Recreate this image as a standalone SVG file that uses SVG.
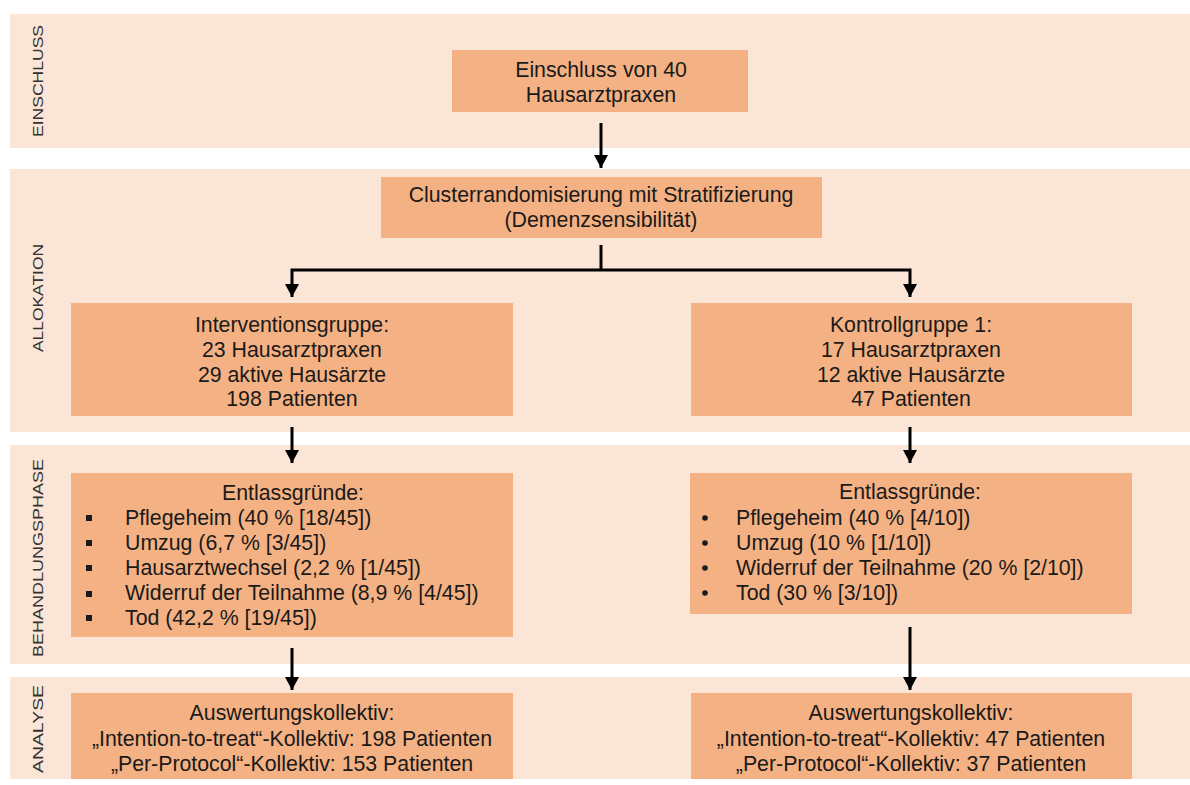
<svg xmlns="http://www.w3.org/2000/svg" width="1190" height="785" viewBox="0 0 1190 785">
  <defs>
    <style>
      .band { fill: #FBE5D6; }
      .box { fill: #F4B183; }
      .t { font-family: "Liberation Sans", Arial, sans-serif; font-size: 21.3px; fill: #1a1a1a; }
      .c { text-anchor: middle; }
      .side { font-family: "Liberation Sans", Arial, sans-serif; font-size: 15px; fill: #333; text-anchor: middle; }
      .conn { stroke: #000; stroke-width: 3; fill: none; }
      .sq { fill: #1a1a1a; }
    </style>
    <!-- arrowhead drawn pointing along +x so orient="auto" turns it with the line -->
    <marker id="arrow" viewBox="0 0 13 14" refX="13" refY="7" markerWidth="13" markerHeight="14" markerUnits="userSpaceOnUse" orient="auto-start-reverse">
      <path d="M0,0 L13,7 L0,14 Z" fill="#000"/>
    </marker>
  </defs>

  <rect width="1190" height="785" fill="#fff"/>

  <!-- phase bands -->
  <g id="bands">
    <rect class="band" x="10" y="14" width="1180" height="134"/>
    <rect class="band" x="10" y="169" width="1180" height="263"/>
    <rect class="band" x="10" y="445" width="1180" height="219"/>
    <rect class="band" x="10" y="677" width="1180" height="102"/>
    <text class="side" transform="translate(43,81) rotate(-90)" textLength="112" lengthAdjust="spacingAndGlyphs">EINSCHLUSS</text>
    <text class="side" transform="translate(43,298) rotate(-90)" textLength="108" lengthAdjust="spacingAndGlyphs">ALLOKATION</text>
    <text class="side" transform="translate(43,558) rotate(-90)" textLength="198" lengthAdjust="spacingAndGlyphs">BEHANDLUNGSPHASE</text>
    <text class="side" transform="translate(43,729) rotate(-90)" textLength="88" lengthAdjust="spacingAndGlyphs">ANALYSE</text>
  </g>

  <!-- connectors -->
  <g id="connectors">
    <line class="conn" x1="601" y1="123" x2="601" y2="168" marker-end="url(#arrow)"/>
    <polyline class="conn" points="601,245 601,270"/>
    <polyline class="conn" points="292,297 292,270 910,270 910,297" marker-start="url(#arrow)" marker-end="url(#arrow)"/>
    <line class="conn" x1="292" y1="427" x2="292" y2="463" marker-end="url(#arrow)"/>
    <line class="conn" x1="910" y1="427" x2="910" y2="463" marker-end="url(#arrow)"/>
    <line class="conn" x1="292" y1="648" x2="292" y2="690" marker-end="url(#arrow)"/>
    <line class="conn" x1="910" y1="627" x2="910" y2="690" marker-end="url(#arrow)"/>
  </g>

  <g id="einschluss">
    <rect class="box" x="452" y="50" width="296" height="62"/>
    <text class="t c" x="601" y="77">Einschluss von 40</text>
    <text class="t c" x="601" y="102">Hausarztpraxen</text>
  </g>

  <g id="randomisierung">
    <rect class="box" x="381" y="177" width="441" height="61"/>
    <text class="t c" x="601" y="202">Clusterrandomisierung mit Stratifizierung</text>
    <text class="t c" x="601" y="227">(Demenzsensibilität)</text>
  </g>

  <g id="interventionsgruppe">
    <rect class="box" x="71" y="303" width="442" height="113"/>
    <text class="t c" x="292" y="332">Interventionsgruppe:</text>
    <text class="t c" x="292" y="357">23 Hausarztpraxen</text>
    <text class="t c" x="292" y="382">29 aktive Hausärzte</text>
    <text class="t c" x="292" y="406">198 Patienten</text>
  </g>

  <g id="kontrollgruppe">
    <rect class="box" x="691" y="303" width="441" height="113"/>
    <text class="t c" x="911" y="332">Kontrollgruppe 1:</text>
    <text class="t c" x="911" y="357">17 Hausarztpraxen</text>
    <text class="t c" x="911" y="382">12 aktive Hausärzte</text>
    <text class="t c" x="911" y="406">47 Patienten</text>
  </g>

  <g id="entlass-intervention">
    <rect class="box" x="71" y="473" width="442" height="164"/>
    <text class="t c" x="293" y="500">Entlassgründe:</text>
    <rect class="sq" x="86" y="515" width="6" height="6"/>
    <rect class="sq" x="86" y="540" width="6" height="6"/>
    <rect class="sq" x="86" y="565" width="6" height="6"/>
    <rect class="sq" x="86" y="591" width="6" height="6"/>
    <rect class="sq" x="86" y="615" width="6" height="6"/>
    <text class="t" x="125" y="525">Pflegeheim (40 % [18/45])</text>
    <text class="t" x="125" y="550">Umzug (6,7 % [3/45])</text>
    <text class="t" x="125" y="575">Hausarztwechsel (2,2 % [1/45])</text>
    <text class="t" x="125" y="600">Widerruf der Teilnahme (8,9 % [4/45])</text>
    <text class="t" x="125" y="625">Tod (42,2 % [19/45])</text>
  </g>

  <g id="entlass-kontrolle">
    <rect class="box" x="690" y="473" width="442" height="141"/>
    <text class="t c" x="910" y="499">Entlassgründe:</text>
    <circle class="sq" cx="705" cy="518" r="2.8"/>
    <circle class="sq" cx="705" cy="543" r="2.8"/>
    <circle class="sq" cx="705" cy="568" r="2.8"/>
    <circle class="sq" cx="705" cy="593" r="2.8"/>
    <text class="t" x="736" y="525">Pflegeheim (40 % [4/10])</text>
    <text class="t" x="736" y="550">Umzug (10 % [1/10])</text>
    <text class="t" x="736" y="575">Widerruf der Teilnahme (20 % [2/10])</text>
    <text class="t" x="736" y="600">Tod (30 % [3/10])</text>
  </g>

  <g id="analyse-intervention">
    <rect class="box" x="71" y="693" width="442" height="86"/>
    <text class="t c" x="292" y="720">Auswertungskollektiv:</text>
    <text class="t c" x="292" y="746">„Intention-to-treat“-Kollektiv: 198 Patienten</text>
    <text class="t c" x="292" y="771">„Per-Protocol“-Kollektiv: 153 Patienten</text>
  </g>

  <g id="analyse-kontrolle">
    <rect class="box" x="691" y="693" width="441" height="86"/>
    <text class="t c" x="911" y="720">Auswertungskollektiv:</text>
    <text class="t c" x="911" y="746">„Intention-to-treat“-Kollektiv: 47 Patienten</text>
    <text class="t c" x="911" y="771">„Per-Protocol“-Kollektiv: 37 Patienten</text>
  </g>
</svg>
